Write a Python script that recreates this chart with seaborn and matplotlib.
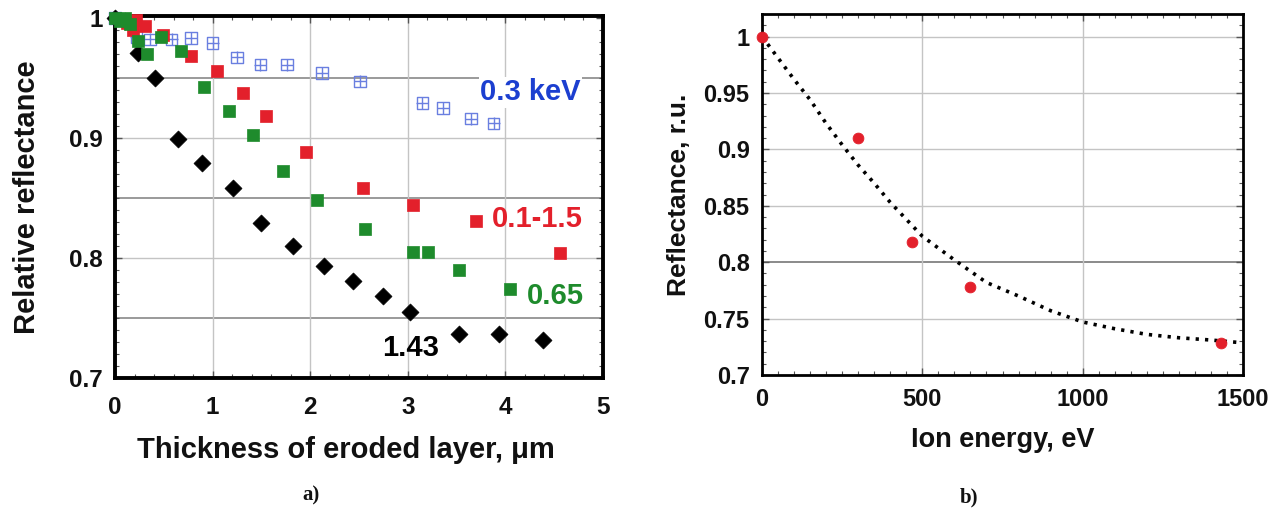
import matplotlib
matplotlib.use("Agg")
import matplotlib.pyplot as plt
import seaborn as sns
import pandas as pd
from matplotlib.ticker import MultipleLocator, FormatStrFormatter

# ---------------- Panel a data ----------------
x_143 = [0.0, 0.1, 0.24, 0.41, 0.65, 0.89, 1.21, 1.50, 1.82, 2.14, 2.44, 2.75, 3.02, 3.52, 3.93, 4.39]
y_143 = [1.0, 0.997, 0.971, 0.950, 0.899, 0.879, 0.858, 0.829, 0.810, 0.793, 0.781, 0.768, 0.755, 0.737, 0.737, 0.732]

x_mix = [0.12, 0.18, 0.22, 0.31, 0.49, 0.78, 1.04, 1.31, 1.55, 1.96, 2.54, 3.05, 3.70, 4.56]
y_mix = [0.996, 0.990, 0.998, 0.993, 0.986, 0.968, 0.956, 0.937, 0.918, 0.888, 0.858, 0.844, 0.831, 0.804]

x_065 = [0.0, 0.05, 0.10, 0.15, 0.24, 0.33, 0.47, 0.68, 0.91, 1.17, 1.41, 1.72, 2.07, 2.56, 3.05, 3.21, 3.52, 4.05]
y_065 = [1.0, 0.997, 1.0, 0.995, 0.981, 0.970, 0.984, 0.972, 0.942, 0.922, 0.902, 0.872, 0.848, 0.824, 0.805, 0.805, 0.790, 0.774]

x_03 = [0.0, 0.22, 0.36, 0.58, 0.78, 1.0, 1.25, 1.49, 1.76, 2.12, 2.51, 3.15, 3.36, 3.65, 3.88]
y_03 = [1.0, 0.984, 0.982, 0.982, 0.983, 0.979, 0.967, 0.961, 0.961, 0.954, 0.947, 0.929, 0.925, 0.916, 0.912]

labels_a = ["0.3 keV", "0.1-1.5", "0.65", "1.43"]

# ---------------- Panel b data ----------------
energy = [0, 300, 469, 650, 1432]
refl = [1.0, 0.91, 0.818, 0.778, 0.7285]

fit_e = [0, 50, 100, 150, 200, 250, 300, 350, 400, 450, 500, 600, 700, 800, 900,
         1000, 1100, 1200, 1300, 1400, 1480]
fit_r = [1.0, 0.981, 0.962, 0.944, 0.923, 0.904, 0.886, 0.870, 0.853, 0.838, 0.823,
         0.802, 0.782, 0.770, 0.757, 0.747, 0.741, 0.736, 0.733, 0.731, 0.729]

sns.set_theme(style="ticks")
plt.rcParams['font.family'] = ['Liberation Sans', 'DejaVu Sans']
plt.rcParams['font.weight'] = 'bold'
for k in ['text.color', 'axes.labelcolor', 'xtick.labelcolor', 'ytick.labelcolor']:
    plt.rcParams[k] = '#111111'

fig = plt.figure(figsize=(12.74, 5.13), dpi=100)
axa = fig.add_axes([115/1274, 1-378/513, (603-115)/1274, (378-16)/513])
axb = fig.add_axes([762/1274, 1-375/513, (1243-762)/1274, (375-14)/513])

RED = "#e3202b"
GREEN = "#1e8b2c"
BLUE_M = "#6a7fe0"
BLUE_T = "#1c3fd0"

# ---- panel a ----
for v in [0.8, 0.9]:
    axa.axhline(v, color="#c4c4c4", lw=1.0, zorder=0)
for v in [0.95, 0.85, 0.75]:
    axa.axhline(v, color="#9a9a9a", lw=1.4, zorder=0)
for v in [1, 2, 3, 4]:
    axa.axvline(v, color="#c4c4c4", lw=1.0, zorder=0)

d03 = pd.DataFrame({"x": x_03, "y": y_03})
sns.scatterplot(data=d03, x="x", y="y", ax=axa, marker="s", s=70,
                facecolors="none", edgecolor=BLUE_M, linewidth=1.0, clip_on=False, zorder=3)
sns.scatterplot(data=d03, x="x", y="y", ax=axa, marker="+", s=70,
                color=BLUE_M, linewidth=1.0, clip_on=False, zorder=3)
sns.scatterplot(x=x_143, y=y_143, ax=axa, marker="D", s=75, color="black",
                edgecolor="black", linewidth=0.5, clip_on=False, zorder=4)
sns.scatterplot(x=x_mix, y=y_mix, ax=axa, marker="s", s=68, color=RED,
                edgecolor=RED, linewidth=0.5, clip_on=False, zorder=5)
sns.scatterplot(x=x_065, y=y_065, ax=axa, marker="s", s=68, color=GREEN,
                edgecolor=GREEN, linewidth=0.5, clip_on=False, zorder=6)

axa.set_xlim(0, 5)
axa.set_ylim(0.7, 1.0015)
axa.xaxis.set_major_locator(MultipleLocator(1))
axa.xaxis.set_minor_locator(MultipleLocator(0.2))
axa.yaxis.set_major_locator(MultipleLocator(0.1))
axa.yaxis.set_minor_locator(MultipleLocator(0.01))
axa.yaxis.set_major_formatter(FormatStrFormatter('%g'))
axa.tick_params(which='both', direction='in', top=True, right=True, color="#555555")
axa.tick_params(which='major', length=5, width=1, labelsize=17.5)
axa.tick_params(axis='y', which='major', pad=9)
axa.tick_params(axis='x', which='major', pad=13)
axa.tick_params(which='minor', length=3, width=0.8)
for s in axa.spines.values():
    s.set_linewidth(2.8)
    s.set_color("black")
axa.set_xlabel("Thickness of eroded layer, μm", fontsize=21, fontweight='bold')
axa.xaxis.set_label_coords(0.474, -0.16)
axa.set_ylabel("Relative reflectance", fontsize=21, fontweight='bold', labelpad=20)

axa.text(3.74, 0.938, labels_a[0], color=BLUE_T, fontsize=21, fontweight='bold',
         va='center', ha='left', bbox=dict(facecolor='white', edgecolor='none', pad=1), zorder=7)
axa.text(3.86, 0.8325, labels_a[1], color=RED, fontsize=21, fontweight='bold', va='center', ha='left')
axa.text(4.22, 0.768, labels_a[2], color=GREEN, fontsize=21, fontweight='bold', va='center', ha='left')
axa.text(2.74, 0.725, labels_a[3], color="black", fontsize=21, fontweight='bold', va='center', ha='left')

# ---- panel b ----
for v in [0.75, 0.85, 0.9, 0.95, 1.0]:
    axb.axhline(v, color="#c4c4c4", lw=1.0, zorder=0)
axb.axhline(0.8, color="#8a8a8a", lw=1.4, zorder=0)
for v in [500, 1000]:
    axb.axvline(v, color="#c4c4c4", lw=1.0, zorder=0)

sns.lineplot(x=fit_e, y=fit_r, ax=axb, color="black", lw=2.6, sort=False,
             linestyle=(0, (0.9, 1.7)), zorder=3)
sns.scatterplot(x=energy, y=refl, ax=axb, color=RED, edgecolor=RED, s=60,
                clip_on=False, zorder=4)

axb.set_xlim(0, 1500)
axb.set_ylim(0.7, 1.02)
axb.xaxis.set_major_locator(MultipleLocator(500))
axb.xaxis.set_minor_locator(MultipleLocator(50))
axb.yaxis.set_major_locator(MultipleLocator(0.05))
axb.yaxis.set_minor_locator(MultipleLocator(0.01))
axb.yaxis.set_major_formatter(FormatStrFormatter('%g'))
axb.tick_params(which='both', direction='in', top=True, right=True, color="#555555")
axb.tick_params(which='major', length=5, width=1, labelsize=17, pad=9)
axb.tick_params(which='minor', length=3, width=0.8)
for s in axb.spines.values():
    s.set_linewidth(2.0)
    s.set_color("black")
axb.set_xlabel("Ion energy, eV", fontsize=19.5, fontweight='bold', labelpad=12)
axb.set_ylabel("Reflectance, r.u.", fontsize=19, fontweight='bold', labelpad=9)

fig.text(311/1274, 1-495/513, "a)", family=["Liberation Serif", "DejaVu Serif"],
         fontsize=15, fontweight='bold', ha='center', va='center')
fig.text(969/1274, 1-497/513, "b)", family=["Liberation Serif", "DejaVu Serif"],
         fontsize=15, fontweight='bold', ha='center', va='center')

fig.savefig("out.png", dpi=100)
